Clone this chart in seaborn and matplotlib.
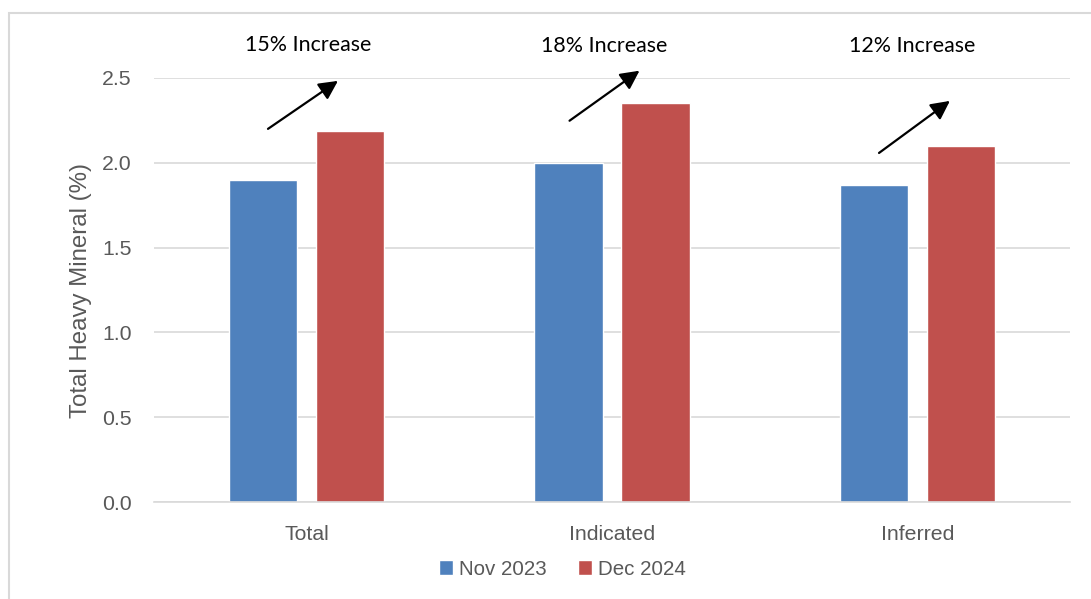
import matplotlib
matplotlib.use("Agg")
import matplotlib.pyplot as plt
import seaborn as sns
import pandas as pd
from matplotlib.patches import Rectangle

categories = ["Total", "Indicated", "Inferred"]
series_names = ["Nov 2023", "Dec 2024"]
nov_2023 = [1.90, 2.00, 1.87]
dec_2024 = [2.19, 2.35, 2.10]
increase_labels = ["15% Increase", "18% Increase", "12% Increase"]
y_ticks = [0.0, 0.5, 1.0, 1.5, 2.0, 2.5]

df = pd.DataFrame({
    "Category": categories * 2,
    "Series": [series_names[0]] * 3 + [series_names[1]] * 3,
    "Value": nov_2023 + dec_2024,
})

sns.set_theme(style="white")
plt.rcParams["font.family"] = ["Liberation Sans", "DejaVu Sans"]

fig = plt.figure(figsize=(10.91, 5.99), dpi=100)
ax = fig.add_axes([0.1409, 0.1619, 0.8401, 0.7079])

palette = {"Nov 2023": "#4F81BD", "Dec 2024": "#C0504D"}
sns.barplot(data=df, x="Category", y="Value", hue="Series", order=categories,
            hue_order=series_names, palette=palette, width=0.57, gap=0.218,
            saturation=1, ax=ax, legend=True)

ax.set_ylim(0, 2.5)
ax.set_xlim(-0.5, 2.5)
ax.set_yticks(y_ticks)
ax.set_yticklabels([f"{t:.1f}" for t in y_ticks])
ax.yaxis.grid(True, color="#d9d9d9", linewidth=1.2)
ax.set_axisbelow(True)
for s in ["top", "right", "left"]:
    ax.spines[s].set_visible(False)
ax.spines["bottom"].set_color("#d9d9d9")
ax.spines["bottom"].set_linewidth(1.2)
ax.tick_params(axis="both", length=0, labelsize=15.3, colors="#595959")
ax.tick_params(axis="y", pad=16)
ax.tick_params(axis="x", pad=16.5)
ax.set_xlabel("")
ax.set_ylabel("Total Heavy Mineral (%)", fontsize=17.3, color="#595959", labelpad=7)

# arrows and labels (positions relative to each category)
arrow_offsets = [(-0.126, 2.200, 0.103, 2.483), (-0.139, 2.248, 0.090, 2.543), (-0.126, 2.058, 0.106, 2.365)]
text_offsets = [(0.005, 2.694), (-0.025, 2.69), (-0.018, 2.686)]
for i, lab in enumerate(increase_labels):
    x0, y0, x1, y1 = arrow_offsets[i]
    ax.annotate("", xy=(i + x1, y1), xytext=(i + x0, y0),
                arrowprops=dict(arrowstyle="-|>,head_length=0.95,head_width=0.48",
                                color="black", lw=1.6, shrinkA=0, shrinkB=0),
                annotation_clip=False)
    tx, ty = text_offsets[i]
    ax.text(i + tx, ty, lab, ha="center", va="center", fontsize=15.4, color="black",
            family=["Lato", "DejaVu Sans"], clip_on=False)

leg = ax.legend(loc="center", bbox_to_anchor=(0.446, -0.158), ncol=2, frameon=False,
                fontsize=14.8, handlelength=0.7, handleheight=0.7, handletextpad=0.3,
                columnspacing=1.5)
for t in leg.get_texts():
    t.set_color("#595959")
leg.set_title(None)

fig.patches.append(Rectangle((9 / 1091, -0.05), 1.2, 1 - 13 / 599 + 0.05,
                             transform=fig.transFigure, fill=False,
                             edgecolor="#d9d9d9", linewidth=1.5, zorder=-1))

fig.savefig("out.png", dpi=100)
